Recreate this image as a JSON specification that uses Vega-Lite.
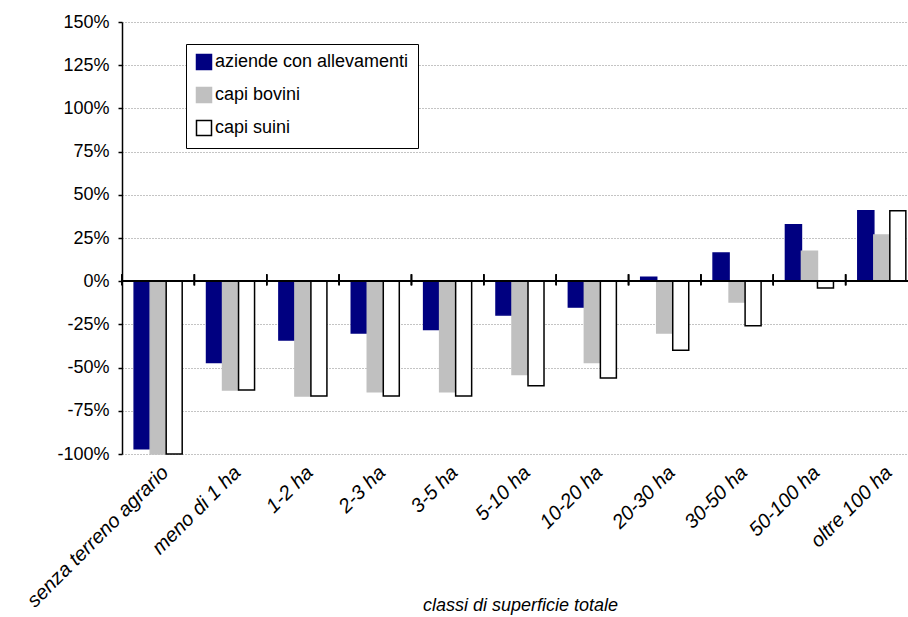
{
  "$schema": "https://vega.github.io/schema/vega-lite/v6.json",
  "width": 796,
  "height": 432,
  "autosize": {"type": "none"},
  "padding": {"left": 122, "top": 22, "right": 0, "bottom": 163},
  "background": "white",
  "config": {
    "view": {"stroke": null},
    "font": "Liberation Sans",
    "axis": {"labelColor": "black", "titleColor": "black", "labelFont": "Liberation Sans", "titleFont": "Liberation Sans"},
    "legend": {"labelColor": "black", "labelFont": "Liberation Sans"}
  },
  "data": {
    "values": [
      {"classe": "senza terreno agrario", "serie": "aziende con allevamenti", "valore": -0.97},
      {"classe": "senza terreno agrario", "serie": "capi bovini", "valore": -1.0},
      {"classe": "senza terreno agrario", "serie": "capi suini", "valore": -1.0},
      {"classe": "meno di 1 ha", "serie": "aziende con allevamenti", "valore": -0.47},
      {"classe": "meno di 1 ha", "serie": "capi bovini", "valore": -0.63},
      {"classe": "meno di 1 ha", "serie": "capi suini", "valore": -0.63},
      {"classe": "1-2 ha", "serie": "aziende con allevamenti", "valore": -0.34},
      {"classe": "1-2 ha", "serie": "capi bovini", "valore": -0.665},
      {"classe": "1-2 ha", "serie": "capi suini", "valore": -0.665},
      {"classe": "2-3 ha", "serie": "aziende con allevamenti", "valore": -0.30},
      {"classe": "2-3 ha", "serie": "capi bovini", "valore": -0.64},
      {"classe": "2-3 ha", "serie": "capi suini", "valore": -0.665},
      {"classe": "3-5 ha", "serie": "aziende con allevamenti", "valore": -0.28},
      {"classe": "3-5 ha", "serie": "capi bovini", "valore": -0.64},
      {"classe": "3-5 ha", "serie": "capi suini", "valore": -0.665},
      {"classe": "5-10 ha", "serie": "aziende con allevamenti", "valore": -0.195},
      {"classe": "5-10 ha", "serie": "capi bovini", "valore": -0.54},
      {"classe": "5-10 ha", "serie": "capi suini", "valore": -0.605},
      {"classe": "10-20 ha", "serie": "aziende con allevamenti", "valore": -0.15},
      {"classe": "10-20 ha", "serie": "capi bovini", "valore": -0.47},
      {"classe": "10-20 ha", "serie": "capi suini", "valore": -0.56},
      {"classe": "20-30 ha", "serie": "aziende con allevamenti", "valore": 0.023},
      {"classe": "20-30 ha", "serie": "capi bovini", "valore": -0.30},
      {"classe": "20-30 ha", "serie": "capi suini", "valore": -0.40},
      {"classe": "30-50 ha", "serie": "aziende con allevamenti", "valore": 0.163},
      {"classe": "30-50 ha", "serie": "capi bovini", "valore": -0.12},
      {"classe": "30-50 ha", "serie": "capi suini", "valore": -0.258},
      {"classe": "50-100 ha", "serie": "aziende con allevamenti", "valore": 0.326},
      {"classe": "50-100 ha", "serie": "capi bovini", "valore": 0.174},
      {"classe": "50-100 ha", "serie": "capi suini", "valore": -0.039},
      {"classe": "oltre 100 ha", "serie": "aziende con allevamenti", "valore": 0.407},
      {"classe": "oltre 100 ha", "serie": "capi bovini", "valore": 0.267},
      {"classe": "oltre 100 ha", "serie": "capi suini", "valore": 0.407}
    ]
  },
  "layer": [
    {
      "mark": {"type": "bar", "strokeWidth": 1.5},
      "encoding": {
        "x": {
          "field": "classe", "type": "nominal",
          "sort": ["senza terreno agrario", "meno di 1 ha", "1-2 ha", "2-3 ha", "3-5 ha", "5-10 ha", "10-20 ha", "20-30 ha", "30-50 ha", "50-100 ha", "oltre 100 ha"],
          "scale": {"paddingInner": 0, "paddingOuter": 0},
          "axis": {
            "orient": "bottom", "domain": false, "ticks": false, "grid": false,
            "labelAngle": -45, "labelFontSize": 20, "labelFontStyle": "italic", "labelPadding": 8, "labelLimit": 0,
            "title": "classi di superficie totale", "titleFontStyle": "italic", "titleFontWeight": "normal",
            "titleFontSize": 18, "titleY": 142, "titleBaseline": "top"
          }
        },
        "xOffset": {
          "field": "serie", "type": "nominal",
          "sort": ["aziende con allevamenti", "capi bovini", "capi suini"],
          "scale": {"paddingInner": 0, "paddingOuter": 0.76}
        },
        "y": {
          "field": "valore", "type": "quantitative",
          "scale": {"domain": [-1, 1.5], "nice": false},
          "axis": {
            "title": null,
            "values": [-1, -0.75, -0.5, -0.25, 0, 0.25, 0.5, 0.75, 1, 1.25, 1.5],
            "labelExpr": "(datum.value < 0 ? '-' : '') + format(round(abs(datum.value) * 100), 'd') + '%'",
            "labelFontSize": 18, "labelPadding": 9,
            "tickSize": 4, "tickColor": "black", "tickWidth": 1.5,
            "domainColor": "black", "domainWidth": 1.5,
            "grid": true, "gridDash": [1, 2], "gridColor": "#888888", "gridWidth": 1
          }
        },
        "color": {
          "field": "serie", "type": "nominal",
          "scale": {"domain": ["aziende con allevamenti", "capi bovini", "capi suini"], "range": ["#000080", "#C0C0C0", "#FFFFFF"]},
          "legend": {
            "orient": "none", "legendX": 64, "legendY": 22, "title": null,
            "strokeColor": "black", "fillColor": "white", "padding": 9,
            "labelFontSize": 18, "labelLimit": 0, "labelOffset": 2,
            "symbolType": "square", "symbolSize": 225, "symbolStrokeWidth": 1.5,
            "rowPadding": 11
          }
        },
        "stroke": {
          "field": "serie", "type": "nominal",
          "scale": {"domain": ["aziende con allevamenti", "capi bovini", "capi suini"], "range": ["#000080", "#C0C0C0", "#000000"]},
          "legend": {
            "orient": "none", "legendX": 64, "legendY": 22, "title": null,
            "strokeColor": "black", "fillColor": "white", "padding": 9,
            "labelFontSize": 18, "labelLimit": 0, "labelOffset": 2,
            "symbolType": "square", "symbolSize": 225, "symbolStrokeWidth": 1.5,
            "rowPadding": 11
          }
        }
      }
    },
    {
      "mark": {"type": "rule", "color": "black", "strokeWidth": 1.5},
      "encoding": {"y": {"datum": 0}}
    },
    {
      "mark": {"type": "rule", "color": "black", "strokeWidth": 1.5},
      "encoding": {
        "x": {
          "field": "classe", "type": "nominal", "bandPosition": 0,
          "sort": ["senza terreno agrario", "meno di 1 ha", "1-2 ha", "2-3 ha", "3-5 ha", "5-10 ha", "10-20 ha", "20-30 ha", "30-50 ha", "50-100 ha", "oltre 100 ha"]
        },
        "y": {"datum": 0.04},
        "y2": {"datum": -0.024}
      }
    }
  ]
}
